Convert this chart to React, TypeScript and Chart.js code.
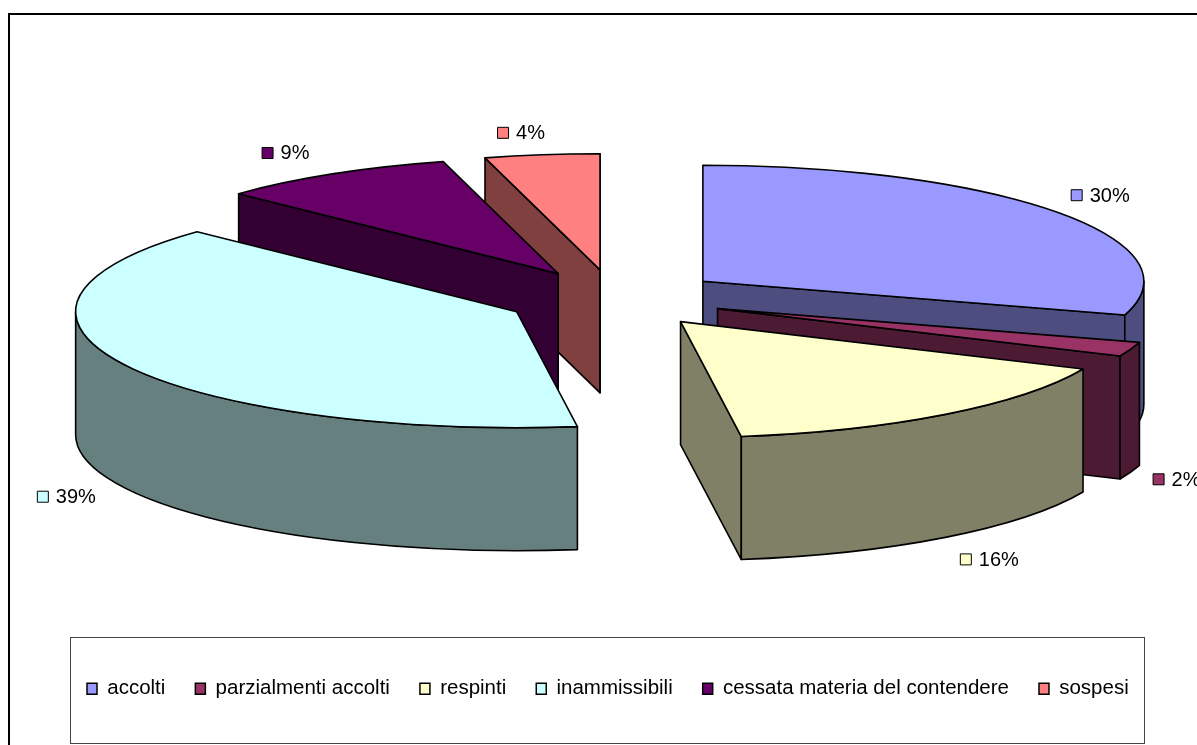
import React, { useEffect, useRef } from "react";
import { Chart, registerables } from "chart.js";

Chart.register(...registerables);

const categories = ["accolti", "parzialmenti accolti", "respinti", "inammissibili", "cessata materia del contendere", "sospesi"];
const shares = [29.7, 2, 16.1, 39.3, 8.7, 4.2];
const sliceColors = ["#9999FF", "#993366", "#FFFFCC", "#CCFFFF", "#660066", "#FF8080"];
const sideColors = ["#4D4D80", "#4D1A33", "#808066", "#668080", "#330033", "#804040"];
const valueLabels = ["30%", "2%", "16%", "39%", "9%", "4%"];

// pseudo-3D projection
const PIE = { cx: 614.5, cy: 298.5, rx: 441, squash: 116 / 441, depth: 123, explode: 110 };
const labelNudge: [number, number][] = [[43, -17], [46, 130], [44, 145], [-58, 132], [-47, -21], [-21, -22]];
const wallOrder = [5, 4, 3, 0, 1, 2];
const FONT = "'Liberation Sans', Arial, sans-serif";

function geometry(arc: any) {
  const { startAngle, endAngle } = arc.getProps(["startAngle", "endAngle"], true);
  const mid = (startAngle + endAngle) / 2;
  const ry = PIE.rx * PIE.squash;
  const ox = PIE.cx + Math.cos(mid) * PIE.explode;
  const oy = PIE.cy + Math.sin(mid) * PIE.explode * PIE.squash;
  const at = (a: number) => [ox + Math.cos(a) * PIE.rx, oy + Math.sin(a) * ry];
  return { startAngle, endAngle, mid, ox, oy, ry, at };
}

function drawQuad(ctx: CanvasRenderingContext2D, a: number[], b: number[], color: string) {
  const d = PIE.depth;
  ctx.beginPath();
  ctx.moveTo(a[0], a[1]);
  ctx.lineTo(b[0], b[1]);
  ctx.lineTo(b[0], b[1] + d);
  ctx.lineTo(a[0], a[1] + d);
  ctx.closePath();
  ctx.fillStyle = color;
  ctx.fill();
  ctx.stroke();
}

const pie3d = {
  id: "pie3d",
  beforeDraw(chart: any) {
    const ctx = chart.ctx as CanvasRenderingContext2D;
    ctx.save();
    ctx.strokeStyle = "#000";
    ctx.lineWidth = 2;
    ctx.strokeRect(9, 14, 1300, 900);
    ctx.lineWidth = 1;
    ctx.strokeStyle = "#444";
    ctx.strokeRect(70.5, 637.5, 1074, 106);
    ctx.restore();
  },
  beforeDatasetsDraw(chart: any) {
    const ctx = chart.ctx as CanvasRenderingContext2D;
    const arcs = chart.getDatasetMeta(0).data;
    ctx.save();
    ctx.strokeStyle = "#000";
    ctx.lineWidth = 1.6;
    ctx.lineJoin = "round";
    for (const i of wallOrder) {
      const g = geometry(arcs[i]);
      const side = sideColors[i];
      if (Math.cos(g.startAngle) < -1e-6) drawQuad(ctx, [g.ox, g.oy], g.at(g.startAngle), side);
      if (Math.cos(g.endAngle) > -1e-6) drawQuad(ctx, [g.ox, g.oy], g.at(g.endAngle), side);
      const from = Math.max(g.startAngle, 0);
      const to = Math.min(g.endAngle, Math.PI);
      if (to > from) {
        ctx.beginPath();
        ctx.ellipse(g.ox, g.oy, PIE.rx, g.ry, 0, from, to, false);
        ctx.ellipse(g.ox, g.oy + PIE.depth, PIE.rx, g.ry, 0, to, from, true);
        ctx.closePath();
        ctx.fillStyle = side;
        ctx.fill();
        ctx.stroke();
      }
    }
    // top faces: the library's own arc elements, flattened and moved out
    arcs.forEach((arc: any) => {
      const g = geometry(arc);
      ctx.save();
      ctx.translate(g.ox, g.oy);
      ctx.scale(1, PIE.squash);
      ctx.translate(-arc.x, -arc.y);
      arc.draw(ctx);
      ctx.restore();
      ctx.beginPath();
      ctx.moveTo(g.ox, g.oy);
      ctx.ellipse(g.ox, g.oy, PIE.rx, g.ry, 0, g.startAngle, g.endAngle, false);
      ctx.closePath();
      ctx.stroke();
    });
    // value labels with their colour keys
    ctx.font = `20px ${FONT}`;
    ctx.textBaseline = "middle";
    ctx.textAlign = "left";
    ctx.lineWidth = 1;
    arcs.forEach((arc: any, i: number) => {
      const g = geometry(arc);
      const p = g.at(g.mid);
      const cx = p[0] + labelNudge[i][0];
      const cy = p[1] + labelNudge[i][1];
      const w = ctx.measureText(valueLabels[i]).width;
      const left = cx - (w + 19) / 2;
      ctx.fillStyle = sliceColors[i];
      ctx.fillRect(left + 0.5, cy - 5.5, 11, 11);
      ctx.strokeRect(left + 0.5, cy - 5.5, 11, 11);
      ctx.fillStyle = "#000";
      ctx.fillText(valueLabels[i], left + 19, cy + 1);
    });
    ctx.restore();
    return false;
  },
};

export default function App() {
  const ref = useRef<HTMLCanvasElement>(null);
  useEffect(() => {
    const chart = new Chart(ref.current as HTMLCanvasElement, {
      type: "pie",
      data: {
        labels: categories,
        datasets: [{ data: shares, backgroundColor: sliceColors, borderWidth: 0, hoverOffset: 0 }],
      },
      options: {
        animation: false,
        responsive: false,
        devicePixelRatio: 1,
        radius: PIE.rx,
        layout: { padding: { left: 57, right: 0, bottom: 36 } },
        plugins: {
          tooltip: { enabled: false },
          legend: {
            position: "bottom",
            align: "start",
            labels: {
              boxWidth: 10,
              boxHeight: 11,
              padding: 30,
              color: "#000",
              font: { family: FONT, size: 20.5 },
              generateLabels: (c: any) =>
                (Chart.overrides.pie as any).plugins.legend.labels
                  .generateLabels(c)
                  .map((l: any) => ({ ...l, lineWidth: 1.5, strokeStyle: "#000" })),
            },
          },
        },
      } as any,
      plugins: [pie3d as any],
    });
    return () => chart.destroy();
  }, []);
  return (
    <div style={{ position: "fixed", left: 0, top: 0, width: 1197, height: 745, background: "#fff" }}>
      <canvas ref={ref} width={1197} height={745} style={{ display: "block" }} />
    </div>
  );
}
